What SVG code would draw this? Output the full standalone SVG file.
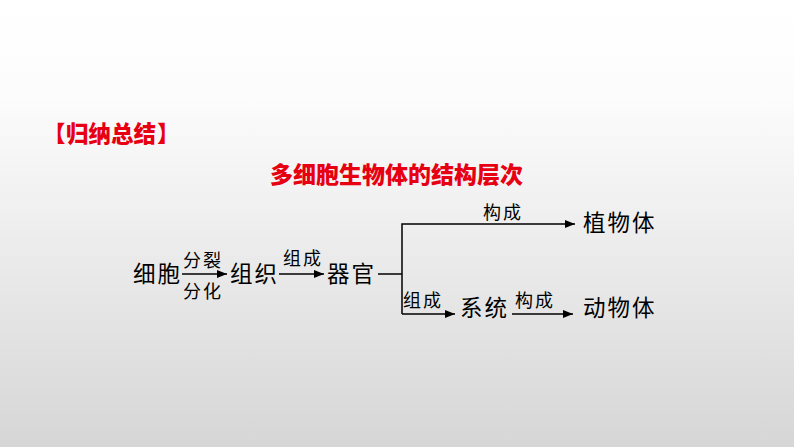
<svg xmlns="http://www.w3.org/2000/svg" width="794" height="447" viewBox="0 0 794 447">
<defs>
<linearGradient id="bg" x1="0" y1="0" x2="0" y2="1">
<stop offset="0" stop-color="#ffffff"/>
<stop offset="0.22" stop-color="#fcfcfc"/>
<stop offset="1" stop-color="#d6d6d6"/>
</linearGradient>
<marker id="arr" viewBox="0 0 10 8" refX="10" refY="4" markerWidth="10" markerHeight="8" markerUnits="userSpaceOnUse" orient="auto">
<path d="M0,0 L10,4 L0,8 Z" fill="#000"/>
</marker>
<style>
.h{font-family:"Noto Sans CJK SC",sans-serif;font-weight:900;fill:#e60012;}
.n{font-family:"Noto Sans CJK SC",sans-serif;font-size:22.5px;fill:#000;letter-spacing:2px;}
.l{font-family:"Noto Sans CJK SC",sans-serif;font-size:18px;fill:#000;letter-spacing:2px;}
.c{stroke:#000;stroke-width:1.5;fill:none;}
</style>
</defs>
<rect width="794" height="447" fill="url(#bg)"/>
<g id="heading">
<text class="h" y="142" font-size="22.5"><tspan x="43">【</tspan><tspan x="66">归纳总结</tspan><tspan x="157">】</tspan></text>
<text class="h" x="270" y="183" font-size="23">多细胞生物体的结构层次</text>
</g>
<g id="connectors">
<line class="c" x1="182" y1="274" x2="227" y2="274" marker-end="url(#arr)"/>
<line class="c" x1="279" y1="274" x2="324" y2="274" marker-end="url(#arr)"/>
<polyline class="c" points="378,274 402,274"/>
<polyline class="c" points="402,314 402,224 575,224" marker-end="url(#arr)"/>
<line class="c" x1="402" y1="314" x2="455" y2="314" marker-end="url(#arr)"/>
<line class="c" x1="512" y1="314" x2="573" y2="314" marker-end="url(#arr)"/>
</g>
<g id="labels">
<text class="l" x="183" y="267">分裂</text>
<text class="l" x="183" y="298">分化</text>
<text class="l" x="283" y="265">组成</text>
<text class="l" x="483" y="219">构成</text>
<text class="l" x="403" y="307">组成</text>
<text class="l" x="515" y="307">构成</text>
</g>
<g id="node-cell"><text class="n" x="133" y="282">细胞</text></g>
<g id="node-tissue"><text class="n" x="230" y="282">组织</text></g>
<g id="node-organ"><text class="n" x="327" y="282">器官</text></g>
<g id="node-plant"><text class="n" x="583" y="231" letter-spacing="4">植物体</text></g>
<g id="node-system"><text class="n" x="460" y="316">系统</text></g>
<g id="node-animal"><text class="n" x="583" y="316" letter-spacing="4">动物体</text></g>
</svg>
